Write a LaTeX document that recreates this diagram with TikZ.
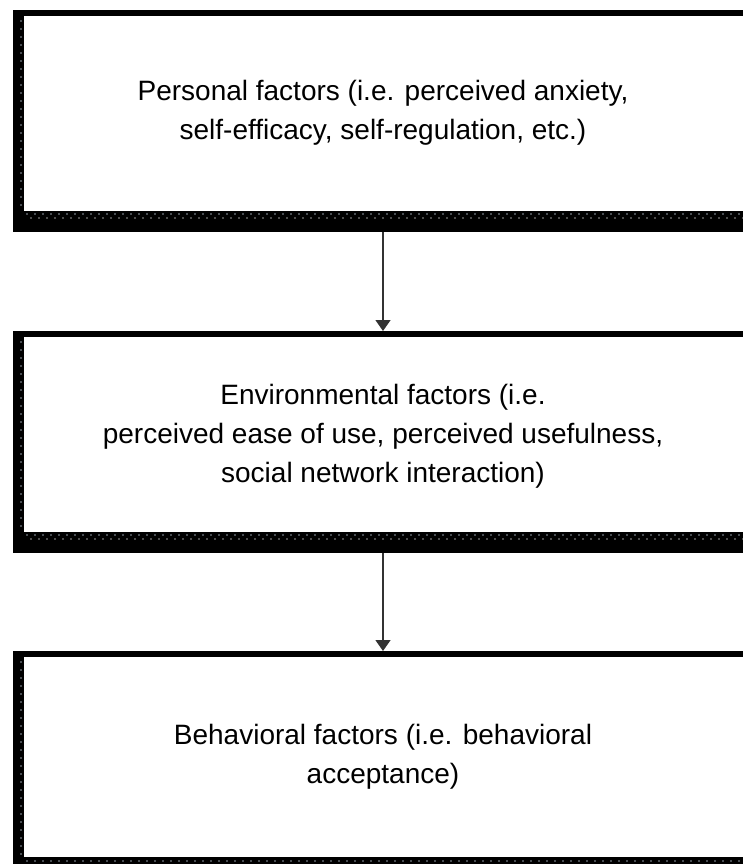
\documentclass[tikz,border=0pt]{standalone}
\usepackage{fontspec}
\setmainfont{Liberation Sans}
\usetikzlibrary{arrows.meta}
\begin{document}
\begin{tikzpicture}[x=1pt,y=-1pt,
  outerbox/.style={fill=black, draw=none, inner sep=0pt, minimum width=740pt, anchor=north},
  innerfill/.style={fill=white},
  dots/.style={draw=gray!50!cyan!30!black, line width=1.6pt, dash pattern=on 1.6pt off 6.4pt},
  dotsb/.style={draw=gray!60!black, line width=1.6pt, dash pattern=on 1.6pt off 6.4pt, dash phase=4pt},
  label/.style={align=center, font=\fontsize{28}{39}\selectfont, inner sep=0pt},
  arr/.style={draw=black!80, line width=1.4pt, -{Triangle[width=15pt,length=11pt]}}]
\useasboundingbox (0,0) rectangle (742,864);
\fill[white] (0,0) rectangle (742,864);

% box 1
\node[outerbox, minimum height=222pt] (o1) at (383,10) {};
\fill[innerfill] (24,16) rectangle (760,211);
\draw[dots] (21,20) -- (21,208);
\draw[dots] (26,214) -- (760,214);
\draw[dotsb] (26,218) -- (760,218);
\node[label] (t1) at (383,113) {Personal factors (i.e. perceived anxiety,\\self-efficacy, self-regulation, etc.)};

% box 2
\node[outerbox, minimum height=222pt] (o2) at (383,331) {};
\fill[innerfill] (24,337) rectangle (760,532);
\draw[dots] (21,341) -- (21,529);
\draw[dots] (26,535) -- (760,535);
\draw[dotsb] (26,539) -- (760,539);
\node[label] (t2) at (383,436) {Environmental factors (i.e.\\perceived ease of use, perceived usefulness,\\social network interaction)};

% box 3
\node[outerbox, minimum height=230pt] (o3) at (383,651) {};
\fill[innerfill] (24,657) rectangle (760,857);
\draw[dots] (21,661) -- (21,855);
\draw[dots] (26,861) -- (760,861);
\node[label] (t3) at (383,757) {Behavioral factors (i.e. behavioral\\acceptance)};

% connectors
\draw[arr] (o1.south) -- (o2.north);
\draw[arr] (o2.south) -- (o3.north);
\end{tikzpicture}
\end{document}
